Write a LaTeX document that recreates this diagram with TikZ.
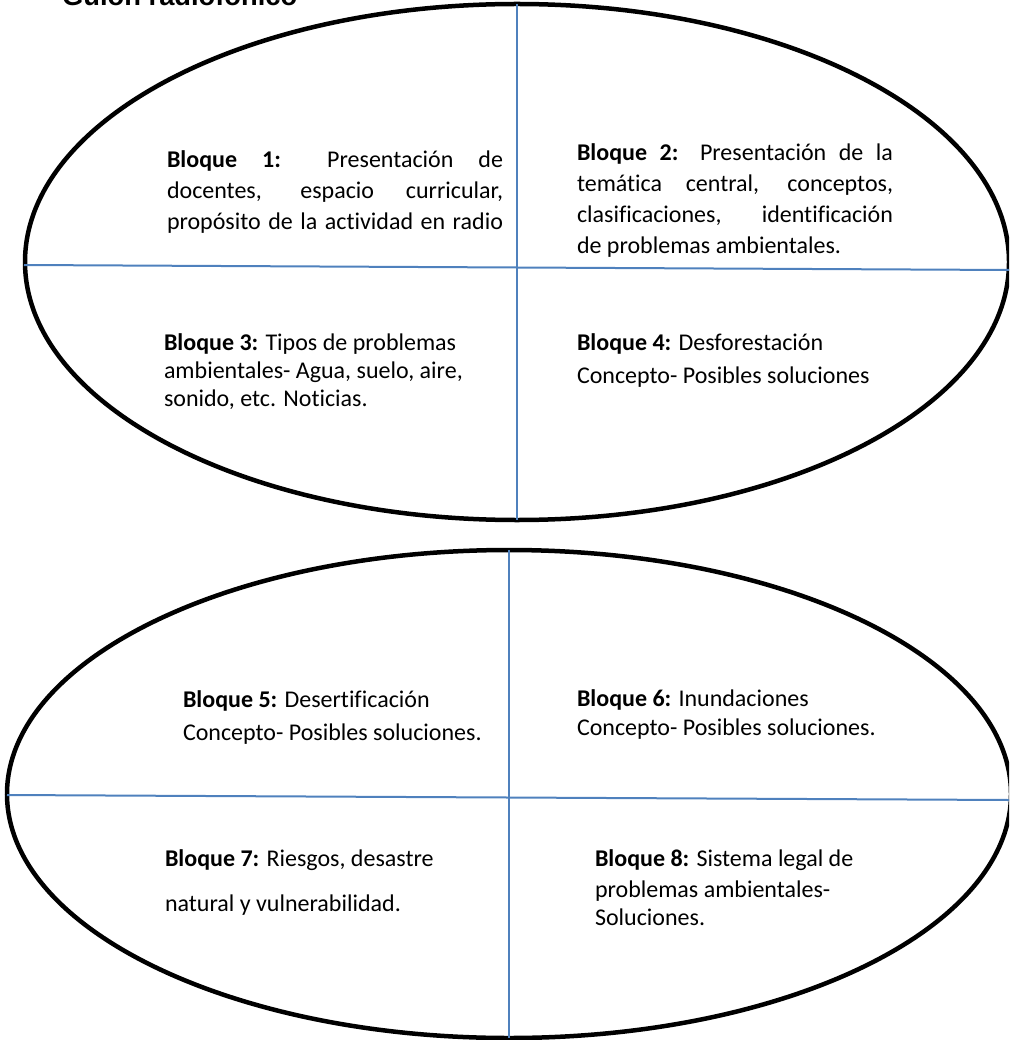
\documentclass[tikz,border=0pt]{standalone}
\usepackage{fontspec}
\setmainfont{Carlito}[Ligatures=NoCommon]
\newfontfamily\titlefont{Liberation Sans}
\usetikzlibrary{shapes.geometric}
\definecolor{divblue}{RGB}{79,129,189}
\begin{document}
\begin{tikzpicture}[x=1pt,y=-1pt,
  oval/.style={ellipse, draw=black, line width=4.5pt, inner sep=0pt, outer sep=0pt},
  divider/.style={draw=divblue, line width=2pt},
  txt/.style={anchor=base west, inner sep=0pt, outer sep=0pt, font=\fontsize{24}{29}\selectfont},
  titletxt/.style={anchor=base west, inner sep=0pt, font=\titlefont\bfseries\fontsize{27.3}{32}\selectfont}]
\useasboundingbox (0,0) rectangle (1009,1040);
\clip (0,0) rectangle (1009,1040);

% title
\node[titletxt] (title) at (62,6) {Guión radiofónico};

% top ellipse and dividers
\node[oval, minimum width=984pt, minimum height=516pt] (E1) at (517,262) {};
\coordinate (h1l) at (24,265);
\coordinate (h1r) at (1009,270);
\draw[divider] (h1l) -- (h1r);
\draw[divider] (E1.north) -- (E1.south);

% bottom ellipse and dividers
\node[oval, minimum width=1004pt, minimum height=488pt] (E2) at (509,794) {};
\coordinate (h2l) at (7,795);
\coordinate (h2r) at (1009,800);
\draw[divider] (h2l) -- (h2r);
\draw[divider] (E2.north) -- (E2.south);

% Bloque 1
\node[txt] (b1a) at (167,168) {\makebox[336pt][s]{\textbf{Bloque 1:} Presentación de}};
\node[txt] (b1b) at (167,199) {\makebox[336pt][s]{docentes, espacio curricular,}};
\node[txt] (b1c) at (167,230) {\makebox[336pt][s]{propósito de la actividad en radio}};

% Bloque 2
\node[txt] (b2a) at (577,161) {\makebox[316pt][s]{\textbf{Bloque 2:} Presentación de la}};
\node[txt] (b2b) at (577,191.5) {\makebox[316pt][s]{temática central, conceptos,}};
\node[txt] (b2c) at (577,223) {\makebox[316pt][s]{clasificaciones, identificación}};
\node[txt] (b2d) at (577,254) {de problemas ambientales.};

% Bloque 3
\node[txt] (b3a) at (164,350) {\textbf{Bloque 3:} Tipos de problemas};
\node[txt] (b3b) at (164,378) {ambientales- Agua, suelo, aire,};
\node[txt] (b3c) at (164,406) {sonido, etc. Noticias.};

% Bloque 4
\node[txt] (b4a) at (577,350) {\textbf{Bloque 4:} Desforestación};
\node[txt] (b4b) at (577,383) {Concepto- Posibles soluciones};

% Bloque 5
\node[txt] (b5a) at (183,707) {\textbf{Bloque 5:} Desertificación};
\node[txt] (b5b) at (183,740) {Concepto- Posibles soluciones.};

% Bloque 6
\node[txt] (b6a) at (577,706) {\textbf{Bloque 6:} Inundaciones};
\node[txt] (b6b) at (577,735) {Concepto- Posibles soluciones.};

% Bloque 7
\node[txt] (b7a) at (165,866) {\textbf{Bloque 7:} Riesgos, desastre};
\node[txt] (b7b) at (165,911) {natural y vulnerabilidad.};

% Bloque 8
\node[txt] (b8a) at (595,866) {\textbf{Bloque 8:} Sistema legal de};
\node[txt] (b8b) at (595,897) {problemas ambientales-};
\node[txt] (b8c) at (595,925) {Soluciones.};
\end{tikzpicture}
\end{document}
